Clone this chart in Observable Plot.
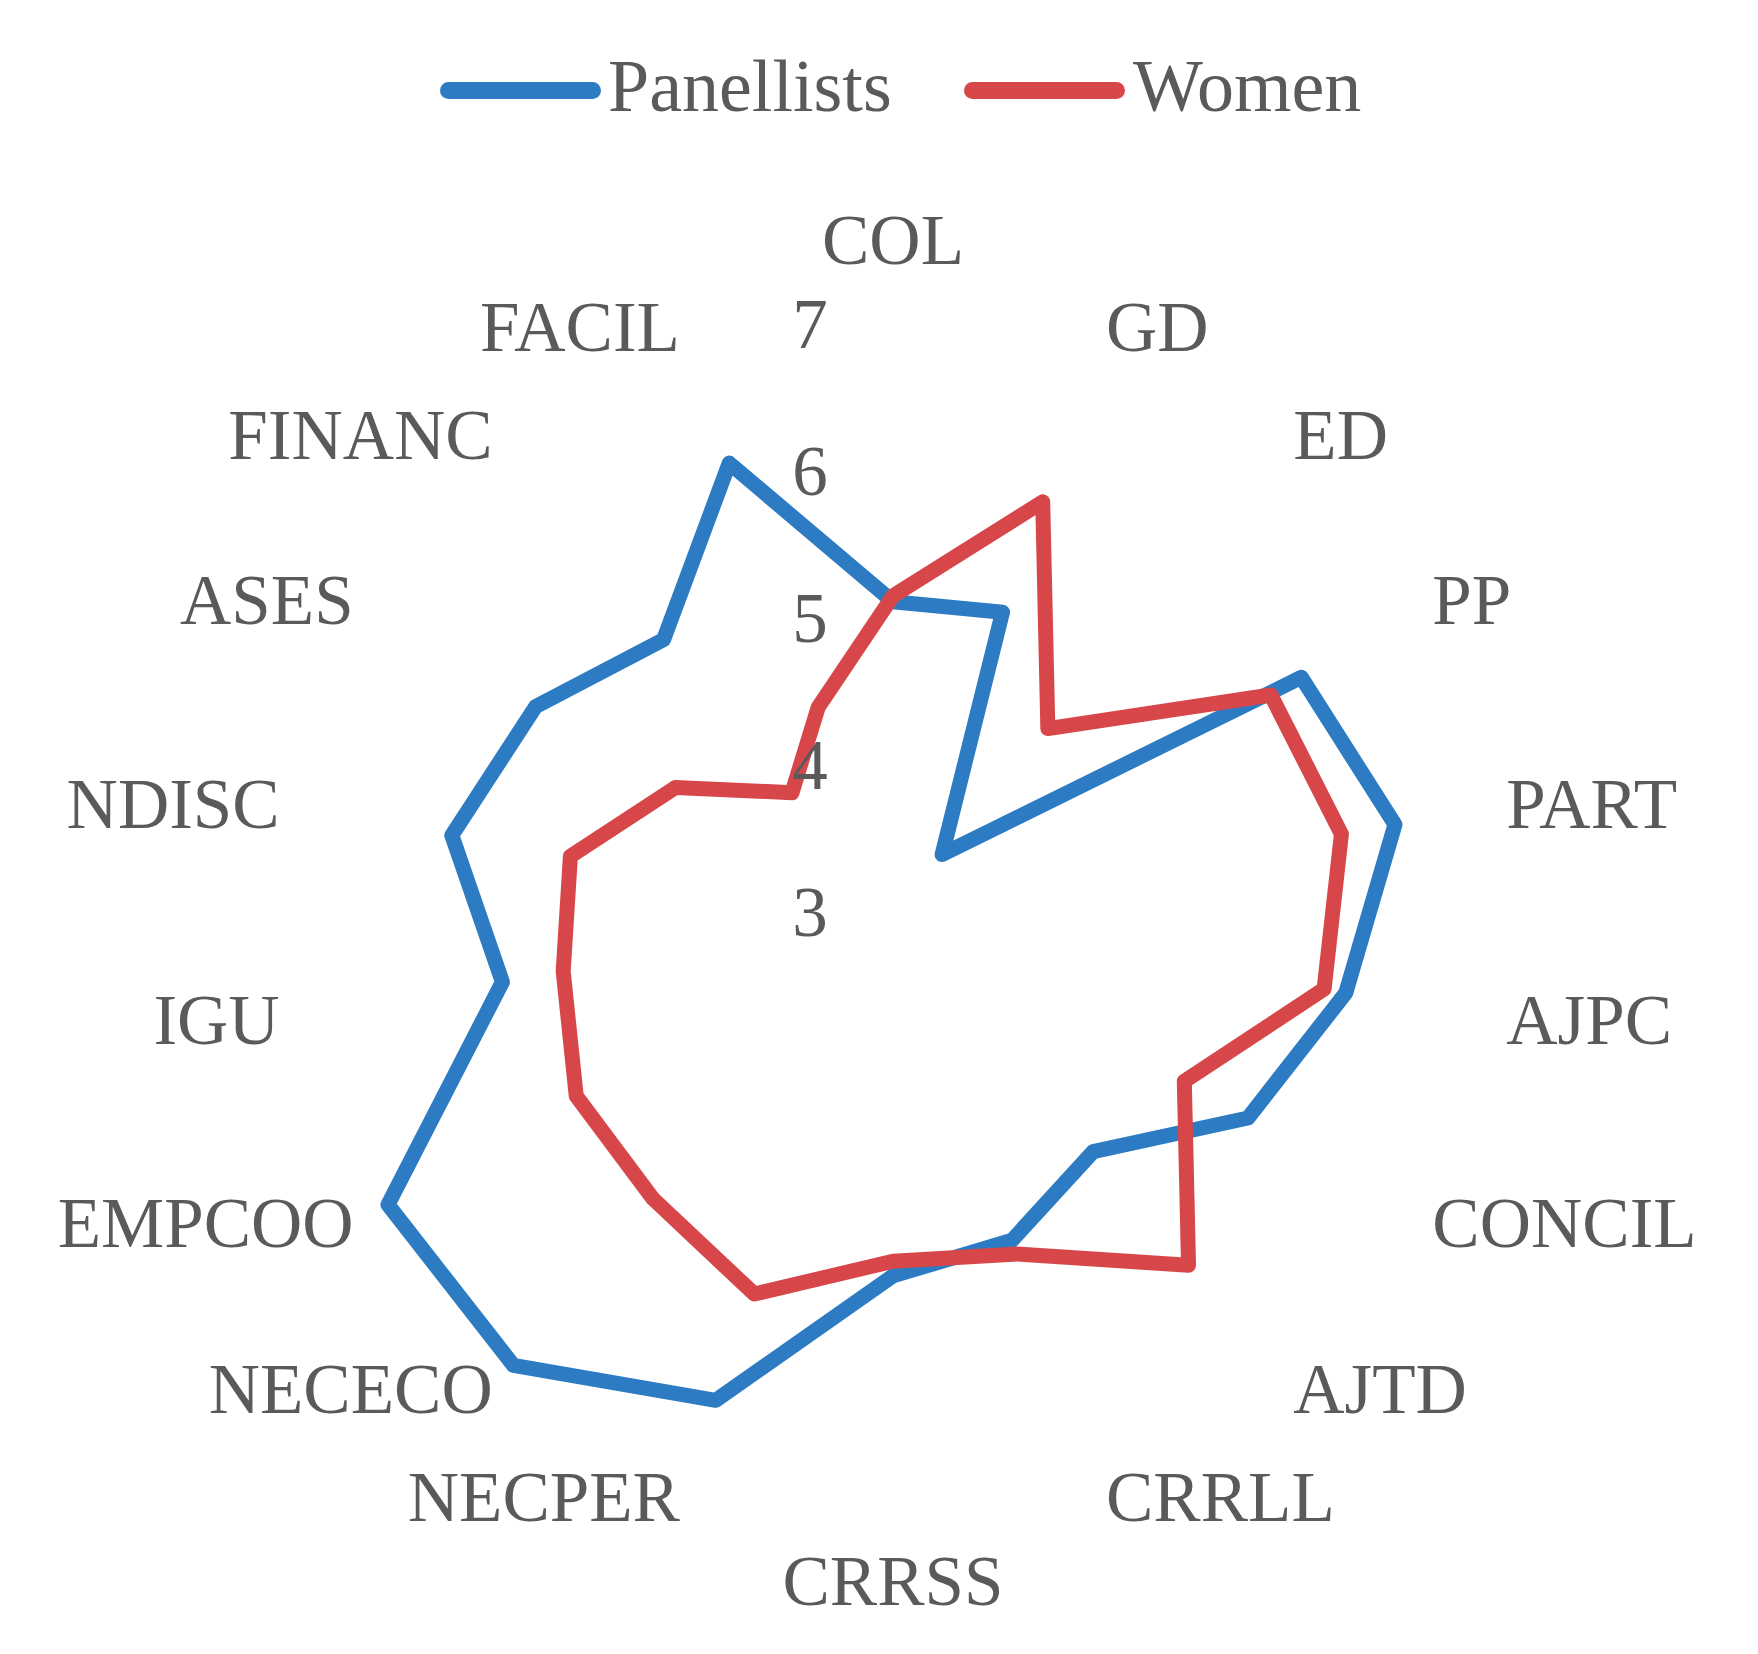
<!DOCTYPE html>
<html>
<head>
<meta charset="utf-8">
<script src="https://cdn.jsdelivr.net/npm/d3@7"></script>
<script src="https://cdn.jsdelivr.net/npm/@observablehq/plot@0.6"></script>
<style>
  body { margin: 0; background: #fff; }
  #wrap { position: relative; width: 1758px; height: 1654px; font-family: "Liberation Serif", serif; color: #5a5a5a; background: #fff; }
  .sw { position: absolute; height: 17px; border-radius: 8.5px; }
  .lt { position: absolute; font-size: 74px; line-height: 74px; white-space: nowrap; }
  #chart { position: absolute; left: 0; top: 150px; }
</style>
</head>
<body>
<div id="wrap">
  <div id="legend"></div>
  <div id="chart"></div>
</div>
<script>
// ---- data ----
const categories = ["COL","GD","ED","PP","PART","AJPC","CONCIL","AJTD","CRRLL","CRRSS","NECPER","NECECO","EMPCOO","IGU","NDISC","ASES","FINANC","FACIL"];
const panellists = [5.12, 5.18, 3.52, 6.21, 6.47, 6.13, 5.79, 5.12, 5.37, 5.47, 6.53, 7.02, 6.97, 5.70, 6.05, 5.81, 5.43, 6.26];
const women      = [5.16, 5.98, 4.64, 5.97, 6.10, 5.98, 5.29, 6.13, 5.47, 5.37, 5.76, 5.54, 5.49, 5.28, 5.23, 4.71, 4.07, 4.49];
const seriesNames = ["Panellists", "Women"];
const seriesColors = ["#2C7BC3", "#D7474A"];
const ticks = [3, 4, 5, 6, 7];
const vMin = 3;

// ---- legend (HTML, above the svg) ----
const legend = document.getElementById("legend");
const legendItems = [
  {swLeft: 440, swWidth: 161, textLeft: 608},
  {swLeft: 964, swWidth: 161, textLeft: 1133}
];
seriesNames.forEach((name, k) => {
  const sw = document.createElement("div");
  sw.className = "sw";
  sw.style.left = legendItems[k].swLeft + "px";
  sw.style.width = legendItems[k].swWidth + "px";
  sw.style.top = "82px";
  sw.style.background = seriesColors[k];
  legend.appendChild(sw);
  const t = document.createElement("div");
  t.className = "lt";
  t.style.left = legendItems[k].textLeft + "px";
  t.style.top = "49px";
  t.textContent = name;
  legend.appendChild(t);
});

// ---- chart ----
const n = categories.length;
const degPerUnit = 10;
const lat = v => 90 - (v - vMin) * degPerUnit;
const lon = i => 180 - i * 360 / n;

const rowsFor = (vals, s) => categories.map((c, i) => ({series: s, category: c, index: i, value: vals[i]}));
const pRows = rowsFor(panellists, seriesNames[0]);
const wRows = rowsFor(women, seriesNames[1]);
const labelRows = categories.map((c, i) => ({category: c, index: i}));
const labelValue = 7.24;

const textColor = "#5a5a5a";
const fs = 71;

const W = 1758, H = 1504;
const chart = Plot.plot({
  width: W,
  height: H,
  marginLeft: 231.5,
  marginRight: 204.5,
  marginTop: 101.6,
  marginBottom: 80.4,
  projection: {
    type: "azimuthal-equidistant",
    rotate: [0, -90],
    domain: d3.geoCircle().center([0, 90]).radius(45).precision(1)()
  },
  style: {fontFamily: '"Liberation Serif", serif', background: "white"},
  marks: [
    Plot.line(pRows, {x: d => lon(d.index), y: d => lat(d.value), curve: "linear-closed",
      stroke: seriesColors[0], strokeWidth: 15, strokeLinejoin: "round"}),
    Plot.line(wRows, {x: d => lon(d.index), y: d => lat(d.value), curve: "linear-closed",
      stroke: seriesColors[1], strokeWidth: 15, strokeLinejoin: "round"}),
    Plot.text(ticks, {x: () => 180, y: d => lat(d), text: d => String(d), dx: -83,
      fontSize: fs, fill: textColor, textAnchor: "middle", lineAnchor: "middle"}),
    Plot.text(labelRows.filter(d => d.index > 0 && d.index < n / 2), {x: d => lon(d.index), y: () => lat(labelValue),
      text: "category", textAnchor: "start", lineAnchor: "middle", fontSize: fs, fill: textColor}),
    Plot.text(labelRows.filter(d => d.index > n / 2), {x: d => lon(d.index), y: () => lat(labelValue),
      text: "category", textAnchor: "end", lineAnchor: "middle", fontSize: fs, fill: textColor}),
    Plot.text(labelRows.filter(d => d.index === 0), {x: d => lon(d.index), y: () => lat(labelValue),
      text: "category", textAnchor: "middle", lineAnchor: "middle", dy: -49, fontSize: fs, fill: textColor}),
    Plot.text(labelRows.filter(d => d.index === n / 2), {x: d => lon(d.index), y: () => lat(labelValue),
      text: "category", textAnchor: "middle", lineAnchor: "middle", dy: 46, fontSize: fs, fill: textColor})
  ]
});
document.getElementById("chart").appendChild(chart);
</script>
</body>
</html>
